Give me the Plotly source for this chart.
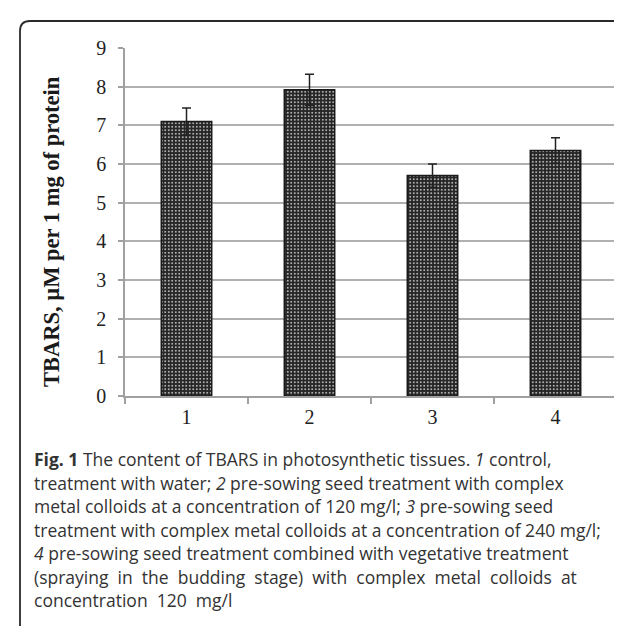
import plotly.graph_objects as go

categories = ["1", "2", "3", "4"]
tbars = [7.1, 7.92, 5.7, 6.35]
tbars_err = [0.35, 0.4, 0.3, 0.33]
y_ticks = [0, 1, 2, 3, 4, 5, 6, 7, 8, 9]

W, H = 622, 626
def px(x): return x / W
def py(y): return 1 - y / H

fig = go.Figure()
fig.add_trace(go.Bar(
    x=categories, y=tbars, width=0.41,
    marker=dict(color="#262626",
                line=dict(color="#1a1a1a", width=1.5),
                pattern=dict(shape=".", fgcolor="#d0d0d0", bgcolor="#262626",
                             size=3.5, solidity=0.22)),
    error_y=dict(type="data", array=tbars_err, visible=True,
                 color="#222222", thickness=1.5, width=4.5),
    showlegend=False,
))

sp = "&nbsp;&nbsp;"
caption_lines = [
    "<b>Fig. 1</b> The content of TBARS in photosynthetic tissues. <i>1</i> control,",
    "treatment with water; <i>2</i> pre-sowing seed treatment with complex",
    "metal colloids at a concentration of 120 mg/l; <i>3</i> pre-sowing seed",
    "treatment with complex metal colloids at a concentration of 240 mg/l;",
    "<i>4</i> pre-sowing seed treatment combined with vegetative treatment",
    sp.join("(spraying in the budding stage) with complex metal colloids at".split(" ")),
    sp.join("concentration 120 mg/l".split(" ")),
]
line_y = [452, 476, 499, 523, 546, 570, 593]
for t, yy in zip(caption_lines, line_y):
    fig.add_annotation(text=t, x=px(24), y=py(yy - 1), xref="paper", yref="paper",
                       xanchor="left", yanchor="middle", showarrow=False,
                       font=dict(family="Open Sans", size=17.5, color="#333333"))

fig.add_annotation(text="<b>TBARS, µM per 1 mg of protein</b>", textangle=-90,
                   x=px(43), y=py(224), xref="paper", yref="paper",
                   xanchor="center", yanchor="middle", showarrow=False,
                   font=dict(family="Liberation Serif", size=22.5, color="#1a1a1a"))

# rounded frame
r = 10
path = (f"M {px(12)},{py(640)} L {px(12)},{py(13 + r)} "
        f"Q {px(12)},{py(13)} {px(12 + r)},{py(13)} L {px(640)},{py(13)}")
fig.add_shape(type="path", path=path, xref="paper", yref="paper",
              line=dict(color="#2a2a2a", width=1.8))

fig.update_layout(
    width=W, height=H, template="none",
    margin=dict(l=0, r=0, t=0, b=0),
    paper_bgcolor="white", plot_bgcolor="white",
    xaxis=dict(domain=[px(117), px(609)], type="category",
               tickson="boundaries", ticks="outside", ticklen=6,
               tickcolor="#a0a0a0", tickwidth=1.5,
               showline=True, linecolor="#a0a0a0", linewidth=1.5,
               showgrid=False, automargin=False, ticklabelstandoff=2,
               tickfont=dict(family="Liberation Serif", size=20, color="#222222")),
    yaxis=dict(domain=[py(388), py(40)], range=[0, 9], tickvals=y_ticks,
               ticks="outside", ticklen=5, tickcolor="#a0a0a0", tickwidth=1.5,
               showline=True, linecolor="#a0a0a0", linewidth=1.5,
               showgrid=True, gridcolor="#b0b0b0", gridwidth=1.5,
               zeroline=False, automargin=False, ticklabelstandoff=8,
               tickfont=dict(family="Liberation Serif", size=20, color="#222222")),
)

fig.write_html("out.html")
